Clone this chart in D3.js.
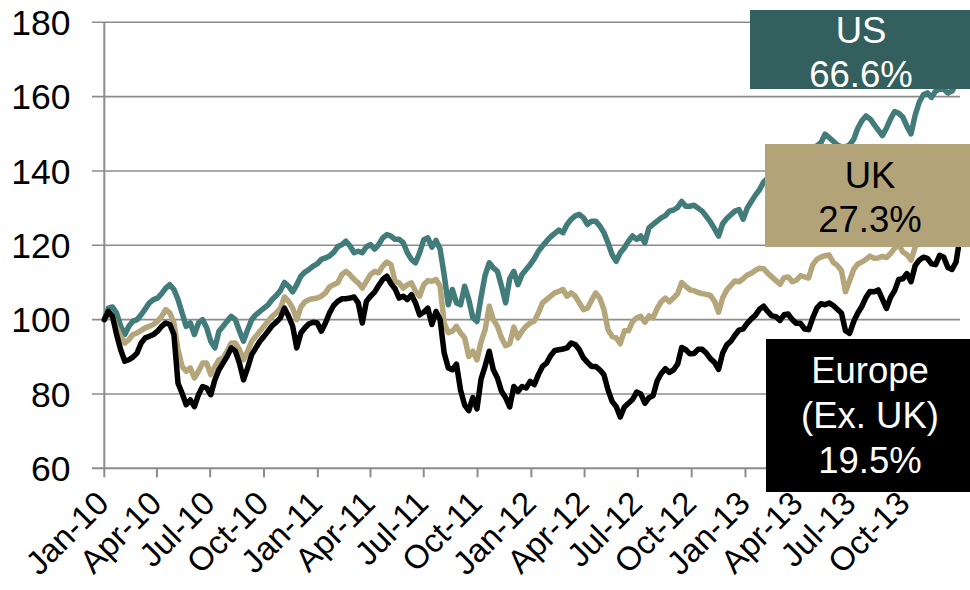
<!DOCTYPE html>
<html><head><meta charset="utf-8">
<script src="https://cdn.jsdelivr.net/npm/d3@7"></script>
<style>
html,body{margin:0;padding:0;background:#fff;}
svg{display:block;font-family:"Liberation Sans",Arial,Helvetica,sans-serif;}
</style></head><body>
<svg id="chart" width="970" height="590"></svg>
<script>
// ---- data ----
const tickLabels = ["Jan-10","Apr-10","Jul-10","Oct-10","Jan-11","Apr-11","Jul-11","Oct-11",
  "Jan-12","Apr-12","Jul-12","Oct-12","Jan-13","Apr-13","Jul-13","Oct-13"];
const yTicks = [60, 80, 100, 120, 140, 160, 180];
const firstDate = "2010-01-01";   // weekly observations from here
const lastDate = "2013-12-31";    // final observation
const axisEnd = "2014-01-01";

const usValues = [
100,103.1,103.4,101.8,98.2,96,98.2,99.6,100,101.3,
102.9,104.5,105.4,105.8,107,108.5,109.4,108.1,105.4,101.8,
98.2,99.1,96,99.1,100,97.8,94.2,92.4,96.9,98.2,
99.6,100.9,100,96.9,94.2,97.3,100,101.3,102.2,103.1,
104,105.4,106.5,107.8,110,109,107.5,109.4,111.7,112.8,
113.5,114.4,115,116.2,116.6,117.1,118.1,119.6,120.2,121.1,
119.8,118,118.4,118,119.6,120.2,119,120.2,122,122.9,
122.5,121.6,121.6,120.7,118,116.2,115.3,118,121.5,122,
119.5,121.3,119,112,104,108.1,104.5,104,109,105.4,
100.5,99.5,106,112,115.3,113.9,113,109,104.5,111,
113,109.4,112.1,113.5,114.8,116.4,118.4,119.8,121.1,122.3,
123.2,124.1,123.4,125.6,127,127.9,128.3,127.4,125.6,126.5,
126.5,125.2,123.4,120.7,117.5,115.7,118,119.3,121.1,122.5,
121.6,122.5,120.7,124.7,125.6,126.5,127.4,128,129.2,129.5,
130.2,131.8,130.5,130.5,130.8,130,129.2,127.8,126.3,124.5,
122.5,125.8,127.2,128.2,129.2,129.6,127,130,131.8,133.5,
135,137,138,139.5,140.5,141,142,141.5,143,144,
145,144.5,145.5,146,146.8,147.6,149.9,149,148,147,
146.5,146.5,147,148.5,151.5,153.5,154.8,154,152.5,151,
149.5,151.5,154,156,155.5,154.5,152,150,155,158.5,
160.5,161,159.8,161.5,162,162,161,161.5,163.5,166.6];

const ukValues = [
100,101.3,100.9,97.8,95.5,93.7,94.6,96,96.4,97.1,
97.8,98.2,98.7,99.6,100.9,102.7,101.8,99.1,91.9,87.4,
86.1,87,84.3,86.1,88.3,88.3,85.2,87.4,89.2,89.7,
91.5,93.7,93.7,91.9,89.2,91.5,94.2,95.5,96.9,98.2,
99.6,100.9,101.8,103,106.1,104.9,103.1,100,103.4,104.8,
105.4,105.6,105.8,106.3,107.2,108.8,109.4,109.9,112.1,113,
112.1,110.8,109.9,108.5,110.3,112.1,113,112.6,114.4,115.5,
114.8,110.3,109.9,108.5,109.4,109.9,107.6,106.3,109.4,110.5,
110.3,110.8,109,99,96.5,96.9,98.2,96.4,95.1,90.1,
91.5,89.2,94,97.3,103.6,100,98.2,95.1,93,93.5,
98,95.1,96.9,98.2,99.1,99.6,101.8,104.5,105.4,106.3,
107.2,107.6,108.1,106.3,107.2,106.3,104.5,102.7,103.1,105.2,
107.2,105.8,102.7,97.3,95.5,95.1,93.5,97,97,99.5,
100.5,100.9,99.3,101,100.5,103,104.8,105.8,104.8,105.8,
107,110,109,108,107.8,107.3,107,106.8,106.5,105,
102,105.8,108,109.2,110.4,110.2,111,112,112.5,113.3,
113.8,113.7,112.5,111.5,110.5,109.5,111.3,111.5,110.2,110.6,
111.8,111.5,111.2,114.8,116.2,116.8,117.2,117.4,115.4,114.6,
113.2,107.5,110.5,113.5,115,115.5,116.2,117.1,116.5,116.6,
117,116.7,117.8,119.2,120.2,118.2,117.5,116,119.5,121.5,
123,122.5,124,123,122,120.5,122,124.5,126,127.3];

const europeValues = [
100,102.2,100.9,96,91.9,88.8,89.2,89.9,91,93.7,
95.1,95.5,96,96.9,98.2,99.1,98.7,96,82.9,80.2,
77.1,78.4,76.6,79.8,82,81.6,79.8,83.8,86.5,88.3,
90.1,92.4,91.5,88.3,83.8,87,90.6,92.4,94.2,95.5,
96.9,98.4,99.3,100.5,103.1,100.9,98.2,92.4,96.4,97.8,
98.9,99.3,99.1,96.9,99.1,101.8,103.8,104.9,105.6,105.6,
105.8,106.1,104.5,99.1,104.9,106.3,107.4,109.2,110.8,111.7,
109.7,108.3,105.8,106.3,105.4,106.7,104.5,101.3,102,103.1,
98.7,102.2,100,91,87,86.5,88,81,77,75.5,
79,76,84,87.5,91.5,86.5,84.3,80.7,79,76.5,
82,80.7,82,81.6,83.4,82.5,85.2,87.4,88.3,90.3,
91.7,91.9,92.1,92.4,93.7,93.3,91.9,89.7,88.5,87.4,
87.4,86.5,85.2,81.1,78,76.6,73.8,76.5,77.5,78.5,
80.5,80,77.5,79,79.5,83.5,85.5,86.8,85.8,86.5,
88,92.5,91.9,90.8,90.9,92,92,91,89.5,88.5,
86.6,91,93.2,94.2,95.8,97.2,97.5,99,100.2,101.2,
102.8,103.6,102.2,101,100.8,99.8,101.3,101.5,100,99,
99,97.5,97.3,100.5,103.1,104.3,104,104.5,103.8,102.8,
101.8,97,96.3,99.5,101.8,103.6,106,107.6,107.5,108,
105.5,103,106,107.8,110.8,111,112.4,110.2,114.5,116,
116.8,116.5,115,114.8,117.3,116.8,114,113.5,115.5,119.5];

const seriesNames = ["US", "UK", "Europe"];
const labelLines = [["US", "66.6%"], ["UK", "27.3%"], ["Europe", "(Ex. UK)", "19.5%"]];

// ---- build ----
const parseISO = d3.timeParse("%Y-%m-%d");
const parseTick = d3.timeParse("%b-%y");
const t0 = parseISO(firstDate), tLast = parseISO(lastDate);
const dates = usValues.map((_, i) => {
  const d = d3.timeDay.offset(t0, 7 * i);
  return d > tLast ? tLast : d;
});
const allSeries = [usValues, ukValues, europeValues].map((vals, k) => ({
  name: seriesNames[k],
  points: vals.map((v, i) => ({ date: dates[i], value: v }))
}));

const svg = d3.select("#chart");
const x = d3.scaleTime().domain([t0, parseISO(axisEnd)]).range([104.3, 959]);
const y = d3.scaleLinear().domain([60, 180]).range([468.3, 22.3]);
const gridColor = "#8c8c8c";
const font = '"Liberation Sans", Arial, sans-serif';

// gridlines (with left tick extension)
svg.append("g").selectAll("line").data(yTicks.filter(t => t > 60)).join("line")
  .attr("x1", 92).attr("x2", 960)
  .attr("y1", d => y(d)).attr("y2", d => y(d))
  .attr("stroke", gridColor).attr("stroke-width", 1.6);

// y axis labels
svg.append("g").selectAll("text").data(yTicks).join("text")
  .attr("x", 70.5).attr("y", d => y(d)).attr("dy", "0.355em")
  .attr("text-anchor", "end").attr("font-size", 35.5).attr("fill", "#000")
  .style("font-family", font)
  .text(d => d);

// y axis line
svg.append("line").attr("x1", x(t0)).attr("x2", x(t0))
  .attr("y1", y(180)).attr("y2", y(60))
  .attr("stroke", gridColor).attr("stroke-width", 2);

// x axis line
svg.append("line").attr("x1", 92).attr("x2", 960)
  .attr("y1", y(60)).attr("y2", y(60))
  .attr("stroke", gridColor).attr("stroke-width", 2);

const tickDates = tickLabels.map(parseTick);
svg.append("g").selectAll("line").data(tickDates.concat([parseISO(axisEnd)])).join("line")
  .attr("x1", d => x(d)).attr("x2", d => x(d))
  .attr("y1", y(60)).attr("y2", y(60) + 9)
  .attr("stroke", gridColor).attr("stroke-width", 2);

svg.append("g").selectAll("text").data(tickLabels).join("text")
  .attr("transform", (d, i) => `translate(${x(tickDates[i]) + 6.5},${y(60) + 37}) rotate(-45)`)
  .attr("text-anchor", "end").attr("font-size", 33).attr("fill", "#000")
  .style("font-family", font)
  .text(d => d);

// lines
const lineColors = ["#427c7a", "#b4a67a", "#000000"];
const line = d3.line().x(d => x(d.date)).y(d => y(d.value));
svg.append("g").selectAll("path").data(allSeries).join("path")
  .attr("d", d => line(d.points))
  .attr("fill", "none")
  .attr("stroke", (d, i) => lineColors[i])
  .attr("stroke-width", 5.5)
  .attr("stroke-linejoin", "round")
  .attr("stroke-linecap", "round");

// label boxes
const boxes = [
  { x: 750, y: 10, w: 225, h: 79, fill: "#335f5e", color: "#ffffff", cx: 861, base: [43, 86.5] },
  { x: 765, y: 144, w: 212, h: 103, fill: "#b2a478", color: "#000000", cx: 870, base: [188, 232] },
  { x: 766, y: 339, w: 212, h: 153, fill: "#000000", color: "#ffffff", cx: 870, base: [383, 428, 473] }
];
boxes.forEach((b, k) => {
  const g = svg.append("g");
  g.append("rect").attr("x", b.x).attr("y", b.y).attr("width", b.w).attr("height", b.h).attr("fill", b.fill);
  labelLines[k].forEach((t, j) => {
    g.append("text").attr("x", b.cx).attr("y", b.base[j])
      .attr("text-anchor", "middle").attr("font-size", 36.5).attr("fill", b.color)
      .style("font-family", font)
      .text(t);
  });
});
</script>
</body></html>
